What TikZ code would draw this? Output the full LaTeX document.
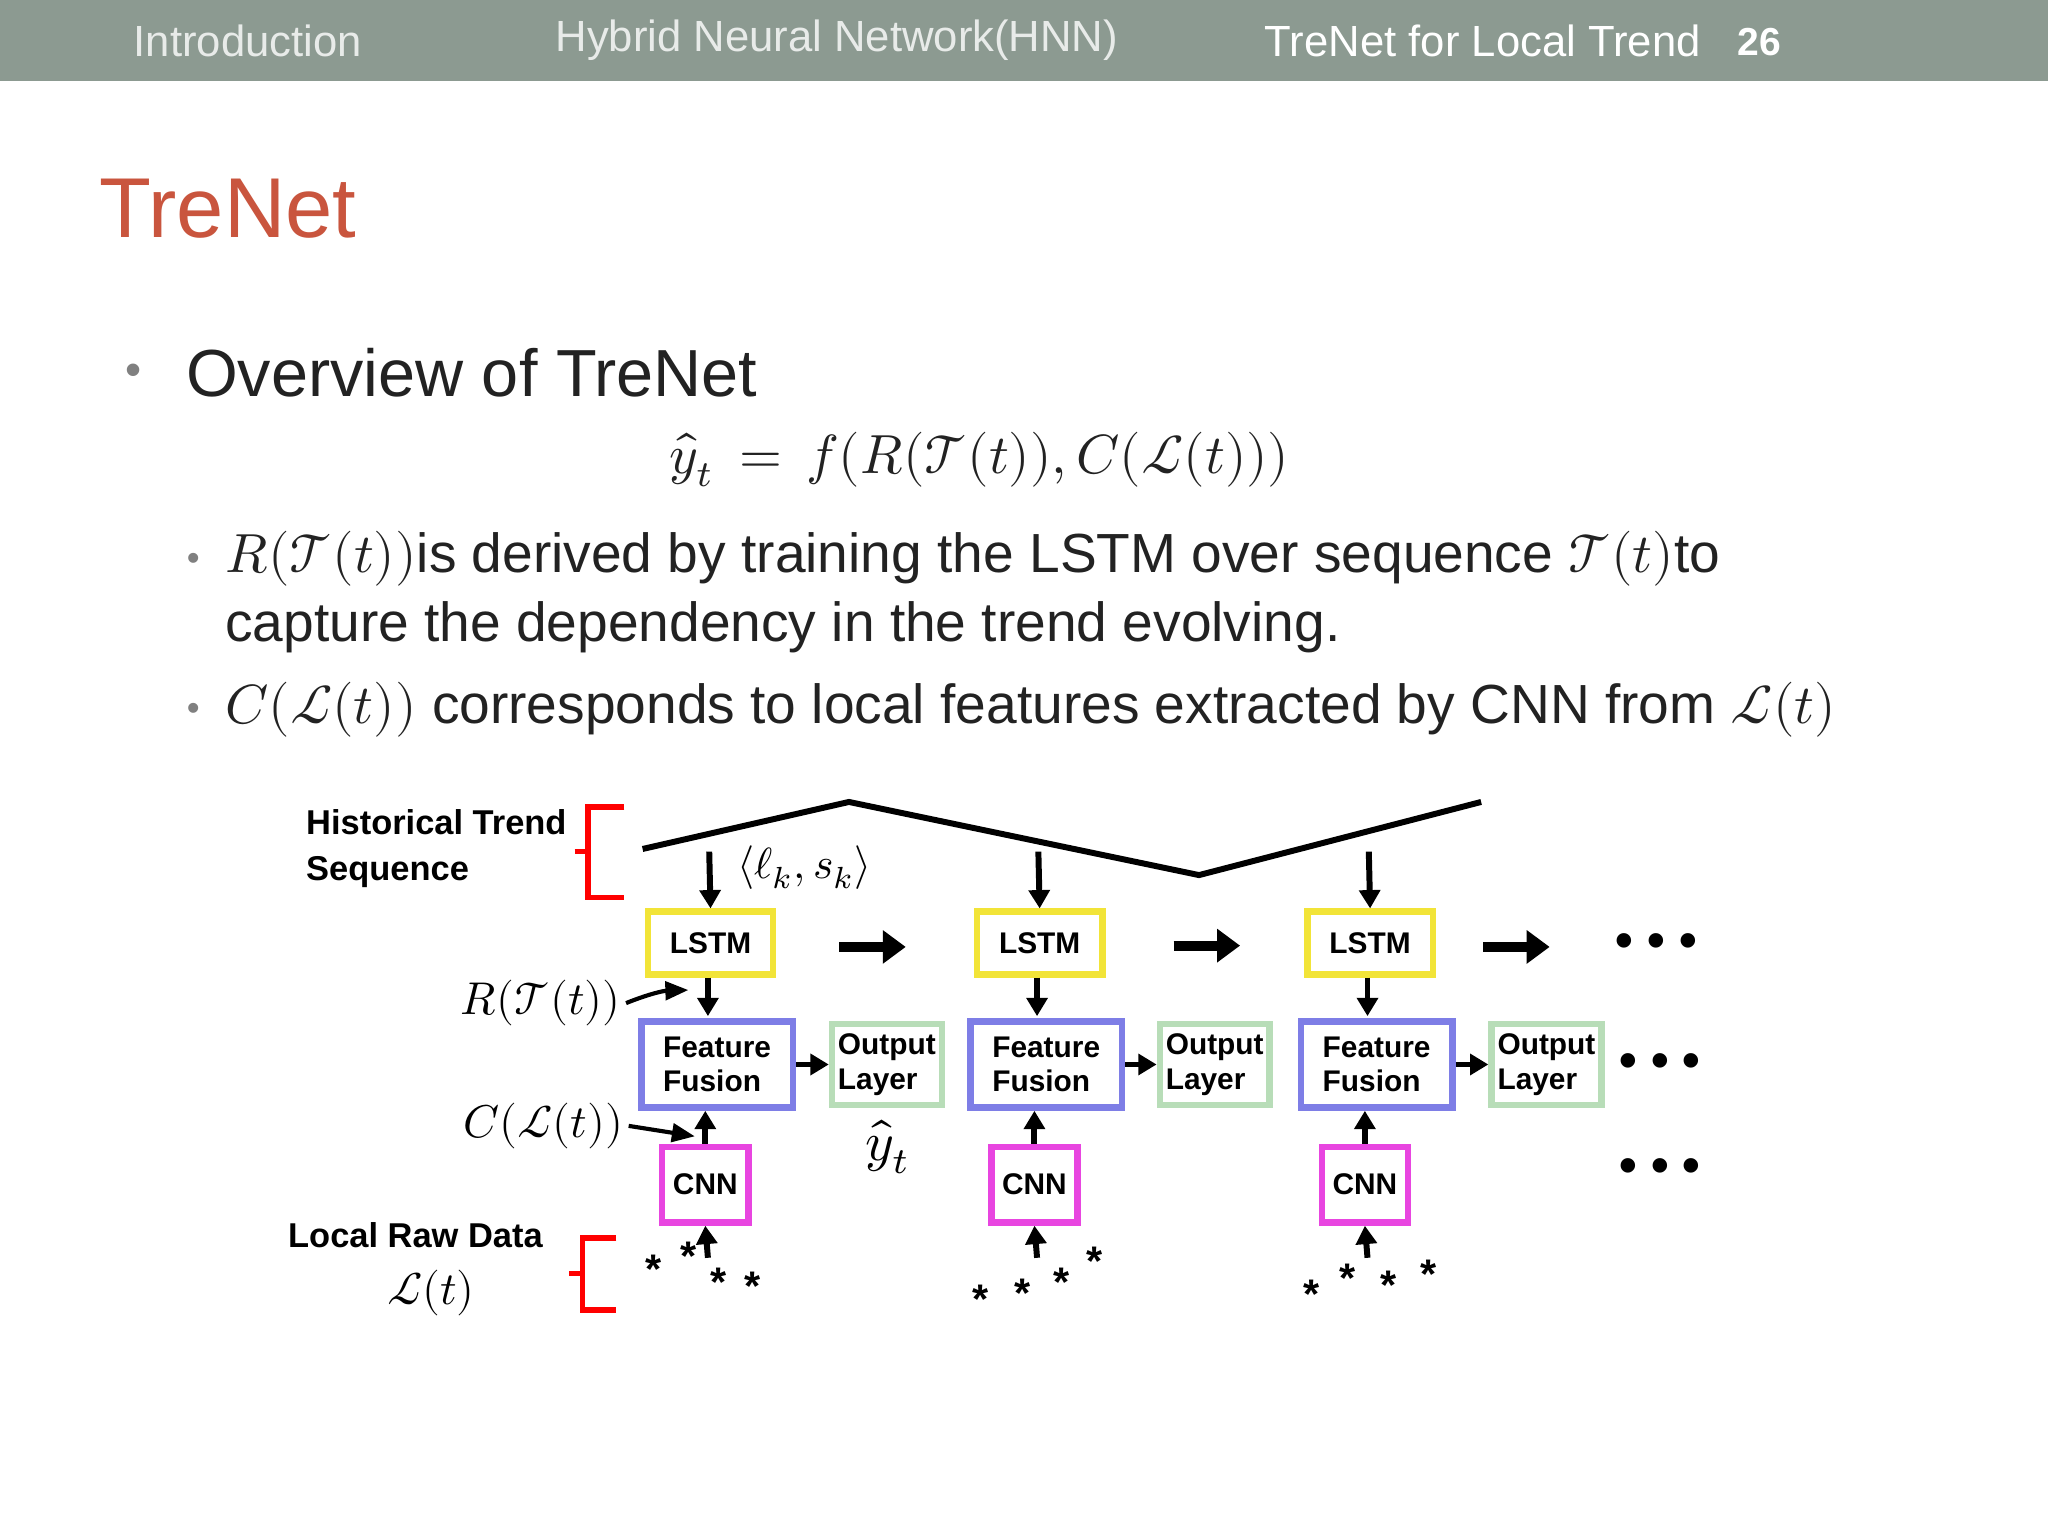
\documentclass[tikz,border=0pt]{standalone}
\usepackage{fontspec}
\setmainfont{Liberation Sans}
\usepackage{amsmath}
\usepackage{unicode-math}
\setmathfont{Latin Modern Math}
\usetikzlibrary{arrows.meta}
\definecolor{hdr}{HTML}{8C9A91}
\definecolor{ttl}{HTML}{C9553E}
\definecolor{ffb}{HTML}{7E7EE6}
\definecolor{olb}{HTML}{B8DDB8}
\definecolor{lsb}{HTML}{F2E438}
\definecolor{cnb}{HTML}{E845E0}
\definecolor{txt}{HTML}{222222}
\tikzset{
 lbl/.style={font=\fontsize{7.5}{9}\selectfont\bfseries,align=left},
 box/.style={draw,line width=1.4pt,font=\fontsize{6.5}{7.5}\selectfont\bfseries,align=left,inner sep=1pt},
 arr/.style={-{Triangle[length=4pt,width=4.5pt]},line width=1.3pt},
 barr/.style={-{Triangle[length=5pt,width=7pt]},line width=2.2pt},
 brk/.style={red,line width=1.2pt},
 st/.style={font=\fontsize{9}{9}\selectfont\bfseries},
 dots/.style={font=\fontsize{11}{11}\selectfont\bfseries}
}
\begin{document}
\begin{tikzpicture}[x=0.01cm,y=-0.01cm]
\useasboundingbox (0,0) rectangle (1568,1176);
\fill[white] (0,0) rectangle (1568,1176);
\fill[hdr] (0,0) rectangle (1568,62);
\node[anchor=west,text=white!80!hdr,font=\fontsize{9.5}{9.5}\selectfont] (h1) at (90,31) {Introduction};
\node[anchor=west,text=white!80!hdr,font=\fontsize{9.5}{9.5}\selectfont] (h2) at (413,31) {Hybrid Neural Network(HNN)};
\node[anchor=west,text=white,font=\fontsize{9.5}{9.5}\selectfont] (h3) at (956,31) {TreNet for Local Trend};
\node[anchor=west,text=white,font=\fontsize{8.5}{8.5}\selectfont\bfseries] (h4) at (1318,32) {26};
\node[anchor=west,text=ttl,font=\fontsize{18.5}{18.5}\selectfont] (title) at (64,160) {TreNet};
\node[text=gray,font=\fontsize{10}{10}\selectfont] (b0) at (102,287) {•};
\node[anchor=west,text=txt,font=\fontsize{14.5}{14.5}\selectfont] (ov) at (130,285) {Overview of TreNet};
\node[text=txt,font=\fontsize{12}{12}\selectfont] (eq) at (750,352) {$\hat{y}_t\,=\,f(R(\mathcal{T}(t)),C(\mathcal{L}(t)))$};
\node[text=gray,font=\fontsize{8}{8}\selectfont] (b1) at (148,430) {•};
\node[anchor=west,text=txt,font=\fontsize{12}{12}\selectfont] (l1) at (160,428) {$R(\mathcal{T}(t))$is derived by training the LSTM over sequence $\mathcal{T}(t)$to};
\node[anchor=west,text=txt,font=\fontsize{12}{12}\selectfont] (l2) at (160,480) {capture the dependency in the trend evolving.};
\node[text=gray,font=\fontsize{8}{8}\selectfont] (b2) at (148,545) {•};
\node[anchor=west,text=txt,font=\fontsize{12}{12}\selectfont] (l3) at (160,543) {$C(\mathcal{L}(t))$ corresponds to local features extracted by CNN from $\mathcal{L}(t)$};
% diagram labels
\node[lbl,anchor=west] (hts) at (222,650) {Historical Trend\\[1pt]Sequence};
\draw[brk] (478,618) -- (450,618) -- (450,687) -- (478,687);
\draw[brk] (440,652) -- (450,652);
\node[lbl,anchor=east] (lrd) at (428,946) {Local Raw Data};
\node[font=\fontsize{10}{10}\selectfont] (lt) at (330,990) {$\mathcal{L}(t)$};
\draw[brk] (472,948) -- (446,948) -- (446,1003) -- (472,1003);
\draw[brk] (436,975) -- (446,975);
\coordinate (p0) at (492,650); \coordinate (p1) at (650,614); \coordinate (p2) at (918,670); \coordinate (p3) at (1134,614);
\draw[line width=1.3pt] (p0) -- (p1) -- (p2) -- (p3);
\node[font=\fontsize{9.5}{9.5}\selectfont] (lk) at (616,664) {$\langle\ell_k,s_k\rangle$};
\foreach \i/\x/\ox in {1/544/679,2/796/930,3/1049/1184}{
 \node[box,draw=lsb,minimum width=96*0.01cm,minimum height=48*0.01cm,align=center] (ls\i) at (\x,722) {LSTM};
 \node[box,draw=ffb,minimum width=116*0.01cm,minimum height=66*0.01cm] (ff\i) at (\x+5,815) {Feature\\Fusion};
 \node[box,draw=olb,minimum width=84*0.01cm,minimum height=62*0.01cm] (ol\i) at (\ox,815) {Output\\Layer};
 \node[box,draw=cnb,minimum width=66*0.01cm,minimum height=58*0.01cm,align=center] (cn\i) at (\x-4,907) {CNN};
 \coordinate (ta\i) at (\x-1,652);
 \draw[arr] (ta\i) -- (ls\i.north);
 \draw[arr] (ls\i.south -| \x-2,0) -- (\x-2,778);
 \draw[arr] (cn\i.north) -- (cn\i.north |- ff\i.south);
 \draw[arr] (ff\i.east) -- (ol\i.west);
 \coordinate (ra\i) at (\x-2,963);
 \draw[arr] (ra\i) -- (cn\i.south);
}
\draw[barr] (ls1.east) ++(48,3) -- ++(51,0);
\draw[barr] (ls2.east) ++(52,2) -- ++(51,0);
\draw[barr] (ls3.east) ++(36,3) -- ++(51,0);
\node[dots] (dt1) at (1268,724) {• • •};
\node[dots] (dt2) at (1271,816) {• • •};
\node[dots] (dt3) at (1271,896) {• • •};
\node[font=\fontsize{12}{12}\selectfont] (yt) at (680,878) {$\hat{y}_t$};
\node[font=\fontsize{10}{10}\selectfont,inner sep=1pt] (rt) at (414,768) {$R(\mathcal{T}(t))$};
\node[font=\fontsize{10}{10}\selectfont,inner sep=1pt] (ct) at (416,862) {$C(\mathcal{L}(t))$};
\coordinate (re) at (527,758);
\coordinate (ce) at (532,870);
\draw[-{Triangle[length=5pt,width=4pt]},line width=0.9pt] (rt.east) to[bend left=10] (re);
\draw[-{Triangle[length=5pt,width=4pt]},line width=0.9pt] (ct.east) -- (ce);
\foreach \n/\x/\y in {a/500/972,b/527/962,c/550/982,d/576/985,e/751/995,f/783/990,g/813/982,h/838/966,i/1004/991,j/1032/979,k/1063/984,l/1094/976}{
 \node[st] (s\n) at (\x,\y) {*};
}
\end{tikzpicture}
\end{document}
